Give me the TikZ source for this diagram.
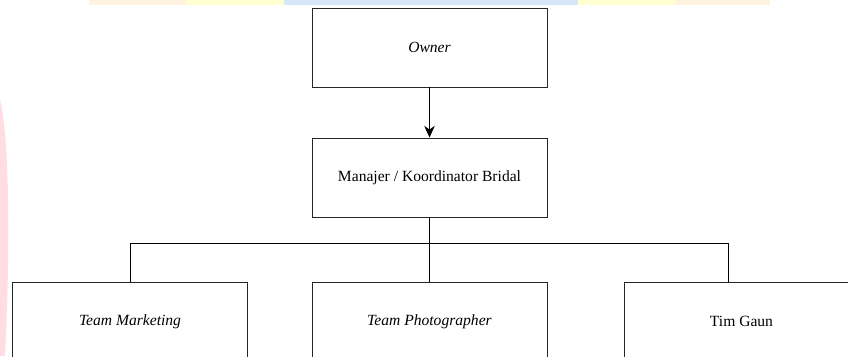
\documentclass[tikz,border=0pt]{standalone}
\usepackage{fontspec}
\setmainfont{Liberation Serif}
\usetikzlibrary{positioning, arrows.meta, calc}

\definecolor{wmorange}{HTML}{FFF3DE}
\definecolor{wmyellow}{HTML}{FFFFD2}
\definecolor{wmblue}{HTML}{D8E6FA}
\definecolor{wmpink}{HTML}{FFDDE2}

\tikzset{
    orgbox/.style={draw=black!85, line width=0.8pt, fill=white, inner sep=0pt,
        minimum width=7.05cm, minimum height=2.37cm, font=\fontsize{13.3}{16}\selectfont},
    orgline/.style={line width=0.6pt}
}

\begin{document}
\begin{tikzpicture}
        \useasboundingbox (0,0) rectangle (25.44,10.68);

        % Watermark remains
        \fill[wmorange] (2.67,10.53) rectangle (5.58,10.68);
        \fill[wmyellow] (5.58,10.53) rectangle (8.52,10.68);
        \fill[wmblue] (8.52,10.53) rectangle (17.34,10.68);
        \fill[wmyellow] (17.34,10.53) rectangle (20.28,10.68);
        \fill[wmorange] (20.28,10.53) rectangle (23.1,10.68);
        \fill[wmpink] (0,7.7) .. controls (0.3,6.5) and (0.3,3) .. (0.15,0) -- (0,0) -- cycle;

        % Draw boxes
        \node[orgbox] (owner) at (12.885,9.255) {\textit{Owner}};
        \node[orgbox] (mgr) at (12.885,5.355) {Manajer / Koordinator Bridal};
        \node[orgbox] (mkt) at (3.9,1.035) {\textit{Team Marketing}};
        \node[orgbox] (photo) at (12.885,1.035) {\textit{Team Photographer}};
        \node[orgbox] (gaun) at (22.245,1.035) {Tim Gaun};

        % Draw connectors
        \draw[orgline, -{Stealth[length=10pt, width=9pt]}] (owner) -- (mgr);
        \coordinate (bus) at ($(mgr.south)+(0,-0.78)$);
        \draw[orgline] (mgr.south) -- (photo.north);
        \draw[orgline] (bus) -| (mkt.north);
        \draw[orgline] (bus) -| ([xshift=-0.405cm]gaun.north);
    \end{tikzpicture}
\end{document}
